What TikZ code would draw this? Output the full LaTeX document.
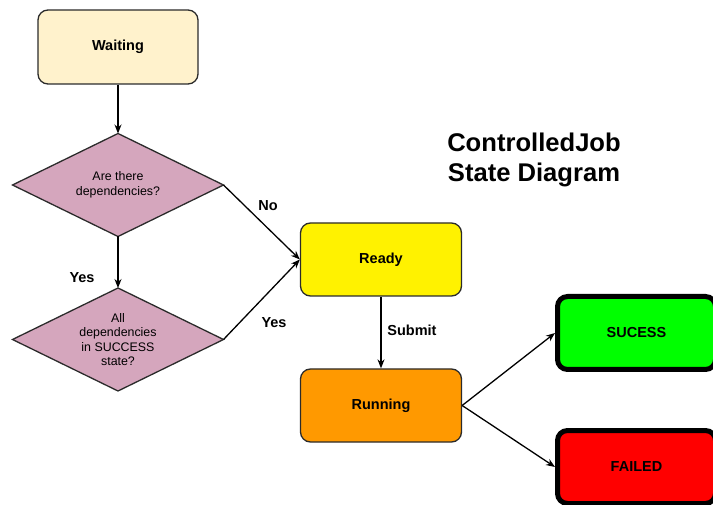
\documentclass[tikz,border=0pt]{standalone}
\usepackage{fontspec}
\setmainfont{Liberation Sans}
\usetikzlibrary{shapes.geometric,arrows.meta}
\definecolor{waitfill}{HTML}{FFF2CC}
\definecolor{decfill}{HTML}{D5A6BD}
\definecolor{edgegray}{HTML}{2B2B2B}
\begin{document}
\begin{tikzpicture}[x=1pt,y=-1pt,
  state/.style={draw=edgegray,line width=1.3pt,rounded corners=10pt,
    minimum width=161pt,minimum height=73pt,inner sep=0pt,
    font=\fontsize{14.5}{17}\selectfont\bfseries},
  final/.style={draw=black,line width=5pt,rounded corners=10pt,
    minimum width=158pt,minimum height=73pt,inner sep=0pt,
    font=\fontsize{14.5}{17}\selectfont\bfseries},
  decision/.style={diamond,aspect=2.2,draw=edgegray,line width=1.3pt,fill=decfill,
    minimum width=211pt,minimum height=103pt,inner sep=0pt,outer sep=0pt,align=center,
    font=\fontsize{12.4}{14.5}\selectfont},
  lbl/.style={font=\fontsize{14.5}{17}\selectfont\bfseries},
  flow/.style={draw=black,line width=1.3pt,-{Stealth[length=9pt,width=7pt]}}]
\useasboundingbox (0,0) rectangle (713,505);

% states
\node[state,fill=waitfill,minimum width=160pt,minimum height=74pt] (waiting) at (118,47) {Waiting};
\node[state,fill=yellow] (ready) at (381,259.5) {Ready};
\node[state,fill={rgb,255:red,255;green,153;blue,0}] (running) at (381,405.5) {Running};
\node[final,fill={rgb,255:red,0;green,255;blue,0}] (success) at (636.5,333) {SUCESS};
\node[final,fill=red] (failed) at (636.5,467) {FAILED};

% decisions
\node[decision] (deps) at (118,185) {Are there\\dependencies?};
\node[decision] (alldone) at (118,339.5) {All\\dependencies\\in SUCCESS\\state?};

% title
\node[align=center,font=\fontsize{25.6}{29.5}\selectfont\bfseries] (title) at (534,160) {ControlledJob\\State Diagram};

% transitions
\draw[flow] (waiting.south) -- (deps.north);
\draw[flow] (deps.south) -- (alldone.north);
\draw[flow] (deps.east) -- (ready.west);
\draw[flow] (alldone.east) -- (ready.west);
\draw[flow] (ready.south) -- (running.north);
\draw[flow] (running.east) -- (success.west);
\draw[flow] (running.east) -- (failed.west);

% transition labels
\node[lbl] (lno) at (268,206) {No};
\node[lbl] (lyes1) at (82,278) {Yes};
\node[lbl] (lyes2) at (274,323) {Yes};
\node[lbl] (lsubmit) at (412,330) {Submit};
\end{tikzpicture}
\end{document}
